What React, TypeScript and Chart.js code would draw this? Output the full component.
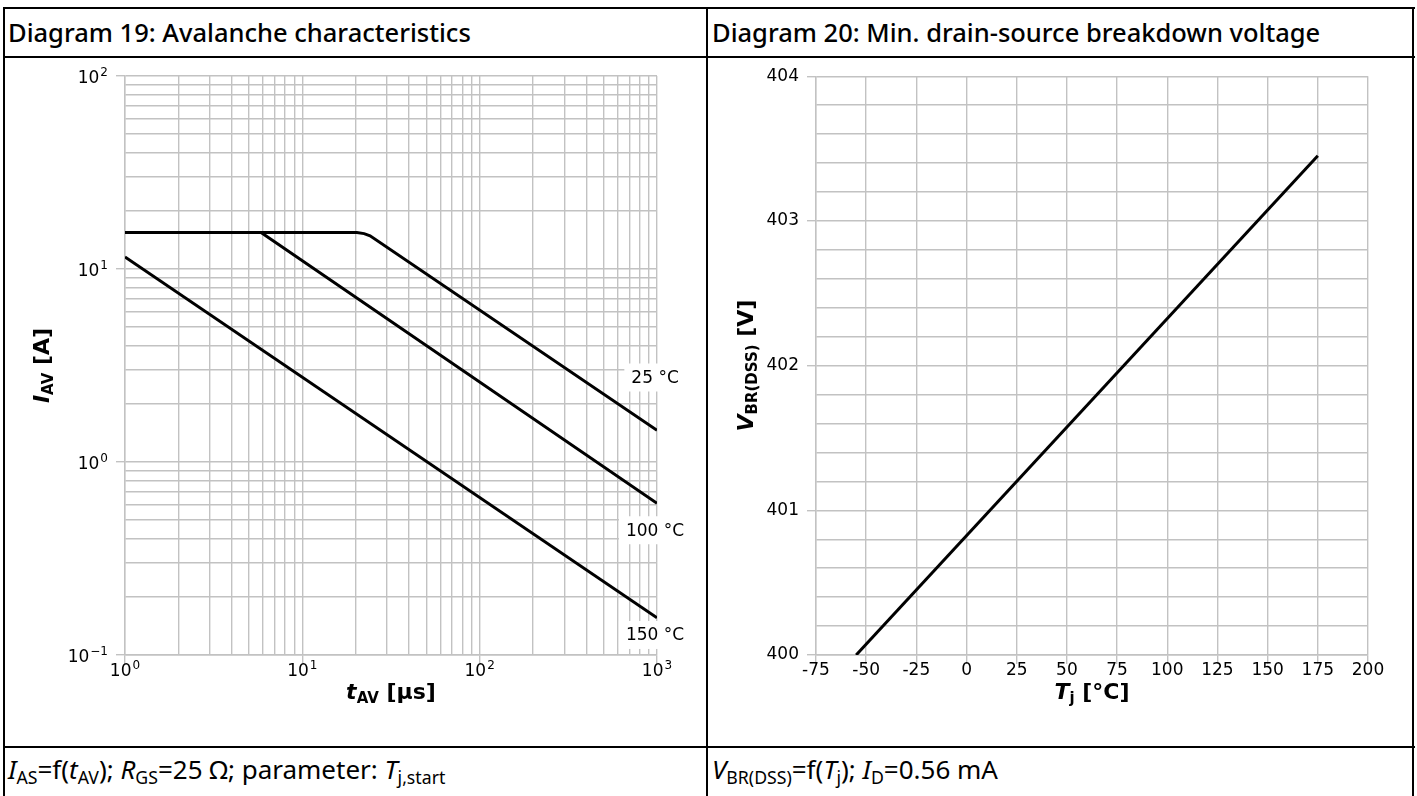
import React, { useEffect, useRef } from 'react';
import { Chart, registerables } from 'chart.js';

Chart.register(...registerables);

// ---------- Diagram 19 data (avalanche characteristics) ----------
const tAv25 = [1, 20.3, 22.3, 24.1, 1000];
const iAv25 = [15.45, 15.45, 15.25, 14.86, 1.46];
const tAv100 = [1, 5.85, 1000];
const iAv100 = [15.45, 15.45, 0.611];
const tAv150 = [1, 1000];
const iAv150 = [11.55, 0.156];

const avCurveLabels = ['25 °C', '100 °C', '150 °C'];
const avLabelT = [975, 975, 975];
const avLabelI = [2.74, 0.443, 0.127];

const avXDecades = [1, 10, 100, 1000];
const avXExponents = ['0', '1', '2', '3'];
const avYDecades = [0.1, 1, 10, 100];
const avYExponents = ['\u22121', '0', '1', '2'];

// ---------- Diagram 20 data (breakdown voltage) ----------
const tjValues = [-55, 175];
const vbrValues = [400, 403.45];
const tjTicks = [-75, -50, -25, 0, 25, 50, 75, 100, 125, 150, 175, 200];
const vbrMajor = [400, 401, 402, 403, 404];

const GRID = '#c2c2c2';
const TICKFONT = { family: 'DejaVu Sans', size: 17 };
const TICK_LEN = 9;

function logGrid(decades: number[]) {
  const out: number[] = [];
  for (let i = 0; i < decades.length; i++) {
    const d = decades[i];
    if (i === decades.length - 1) { out.push(d); break; }
    for (let k = 1; k <= 9; k++) out.push(+(d * k).toPrecision(6));
  }
  return out;
}

function isIn(list: number[], v: number) {
  return list.some((d) => Math.abs(d - v) <= Math.abs(d) * 1e-6 + 1e-9);
}

type Seg = { text: string; font: string; dy?: number };

function drawRich(ctx: CanvasRenderingContext2D, segs: Seg[], cx: number, cy: number, rot: number, base: number) {
  ctx.save();
  ctx.translate(cx, cy);
  ctx.rotate(rot);
  let total = 0;
  const ws = segs.map((s) => {
    ctx.font = s.font;
    const w = ctx.measureText(s.text).width;
    total += w;
    return w;
  });
  let x = -total / 2;
  ctx.fillStyle = '#000';
  ctx.textBaseline = 'alphabetic';
  ctx.textAlign = 'left';
  segs.forEach((s, i) => {
    ctx.font = s.font;
    ctx.fillText(s.text, x, base + (s.dy || 0));
    x += ws[i];
  });
  ctx.restore();
}

const B = 'bold 22px "DejaVu Sans"';
const BI = 'italic bold 22px "DejaVu Sans"';
const BS = 'bold 15px "DejaVu Sans"';
const PF = '17px "DejaVu Sans"';
const EF = '12px "DejaVu Sans"';

// draws "10" with a raised exponent; align: 'right' (y axis) or 'center' (x axis)
function drawPow(ctx: CanvasRenderingContext2D, exp: string, x: number, baseY: number, align: 'right' | 'center') {
  ctx.save();
  ctx.fillStyle = '#000';
  ctx.textBaseline = 'alphabetic';
  ctx.textAlign = 'left';
  ctx.font = PF;
  const wb = ctx.measureText('10').width;
  ctx.font = EF;
  const we = ctx.measureText(exp).width + 1;
  const total = wb + we;
  const left = align === 'right' ? x - total : x - total / 2;
  ctx.font = PF;
  ctx.fillText('10', left, baseY);
  ctx.font = EF;
  ctx.fillText(exp, left + wb + 1, baseY - 7);
  ctx.restore();
}

function AvalancheChart() {
  const ref = useRef<HTMLCanvasElement>(null);
  useEffect(() => {
    const toPts = (xs: number[], ys: number[]) => xs.map((x, i) => ({ x, y: ys[i] }));
    const ds = (xs: number[], ys: number[], label: string) => ({
      label,
      data: toPts(xs, ys),
      borderColor: '#000',
      borderWidth: 3,
      pointRadius: 0,
      tension: 0,
      fill: false,
    });
    const plugin = {
      id: 'avDecor',
      afterDraw(chart: any) {
        const ctx = chart.ctx as CanvasRenderingContext2D;
        const a = chart.chartArea;
        const xs = chart.scales.x;
        const ys = chart.scales.y;
        // tick labels (powers of ten)
        avXDecades.forEach((d, i) => drawPow(ctx, avXExponents[i], xs.getPixelForValue(d), a.bottom + 21, 'center'));
        avYDecades.forEach((d, i) => drawPow(ctx, avYExponents[i], a.left - TICK_LEN - 8, ys.getPixelForValue(d) + 7, 'right'));
        // curve annotations
        ctx.save();
        ctx.font = '17px "DejaVu Sans"';
        avCurveLabels.forEach((t, i) => {
          const px = xs.getPixelForValue(avLabelT[i]);
          const py = ys.getPixelForValue(avLabelI[i]);
          const w = ctx.measureText(t).width;
          ctx.fillStyle = '#fff';
          ctx.fillRect(px - w / 2 - 7, py - 14, w + 14, 28);
          ctx.fillStyle = '#000';
          ctx.textAlign = 'center';
          ctx.textBaseline = 'middle';
          ctx.fillText(t, px, py + 1);
        });
        ctx.restore();
        // axis titles
        drawRich(ctx, [
          { text: 't', font: BI },
          { text: 'AV', font: BS, dy: 4 },
          { text: ' [µs]', font: B },
        ], (a.left + a.right) / 2, a.bottom + 36, 0, 8);
        drawRich(ctx, [
          { text: 'I', font: BI },
          { text: 'AV', font: BS, dy: 4 },
          { text: ' [A]', font: B },
        ], 36, (a.top + a.bottom) / 2, -Math.PI / 2, 8);
      },
    };
    const xGrid = logGrid(avXDecades);
    const yGrid = logGrid(avYDecades);
    const chart = new Chart(ref.current as HTMLCanvasElement, {
      type: 'line',
      data: {
        datasets: [ds(tAv25, iAv25, avCurveLabels[0]), ds(tAv100, iAv100, avCurveLabels[1]), ds(tAv150, iAv150, avCurveLabels[2])],
      },
      options: {
        animation: false,
        responsive: false,
        maintainAspectRatio: false,
        layout: { padding: { left: 0, top: 18, right: 49, bottom: 0 } },
        plugins: { legend: { display: false }, tooltip: { enabled: false } },
        scales: {
          x: {
            type: 'logarithmic',
            min: 1,
            max: 1000,
            afterBuildTicks: (s: any) => { s.ticks = xGrid.map((v) => ({ value: v, major: isIn(avXDecades, v) })); },
            afterFit: (s: any) => { s.height = 91; },
            ticks: { autoSkip: false, maxRotation: 0, font: TICKFONT, callback: () => '' },
            grid: {
              color: GRID,
              lineWidth: 1.4,
              tickLength: TICK_LEN,
              tickColor: (c: any) => (c.tick && isIn(avXDecades, c.tick.value) ? GRID : 'rgba(0,0,0,0)'),
            },
            border: { color: GRID, width: 1.4 },
          },
          y: {
            type: 'logarithmic',
            min: 0.1,
            max: 100,
            afterBuildTicks: (s: any) => { s.ticks = yGrid.map((v) => ({ value: v, major: isIn(avYDecades, v) })); },
            afterFit: (s: any) => { s.width = 120; },
            ticks: { autoSkip: false, font: TICKFONT, callback: () => '' },
            grid: {
              color: GRID,
              lineWidth: 1.4,
              tickLength: TICK_LEN,
              tickColor: (c: any) => (c.tick && isIn(avYDecades, c.tick.value) ? GRID : 'rgba(0,0,0,0)'),
            },
            border: { color: GRID, width: 1.4 },
          },
        },
      },
      plugins: [plugin],
    } as any);
    return () => chart.destroy();
  }, []);
  return <canvas ref={ref} width={701} height={688} style={{ width: 701, height: 688, display: 'block' }} />;
}

function BreakdownChart() {
  const ref = useRef<HTMLCanvasElement>(null);
  useEffect(() => {
    const plugin = {
      id: 'bvDecor',
      afterDraw(chart: any) {
        const ctx = chart.ctx as CanvasRenderingContext2D;
        const a = chart.chartArea;
        drawRich(ctx, [
          { text: 'T', font: BI },
          { text: 'j', font: BS, dy: 4 },
          { text: ' [°C]', font: B },
        ], (a.left + a.right) / 2, a.bottom + 36, 0, 8);
        drawRich(ctx, [
          { text: 'V', font: BI },
          { text: 'BR(DSS)', font: BS, dy: 4 },
          { text: ' [V]', font: B },
        ], 37, (a.top + a.bottom) / 2, -Math.PI / 2, 8);
      },
    };
    const chart = new Chart(ref.current as HTMLCanvasElement, {
      type: 'line',
      data: {
        datasets: [{
          label: 'VBR(DSS)',
          data: tjValues.map((x, i) => ({ x, y: vbrValues[i] })),
          borderColor: '#000',
          borderWidth: 3,
          pointRadius: 0,
          tension: 0,
          fill: false,
        }],
      },
      options: {
        animation: false,
        responsive: false,
        maintainAspectRatio: false,
        layout: { padding: { left: 0, top: 18, right: 44, bottom: 0 } },
        plugins: { legend: { display: false }, tooltip: { enabled: false } },
        scales: {
          x: {
            type: 'linear',
            min: -75,
            max: 200,
            afterBuildTicks: (s: any) => { s.ticks = tjTicks.map((v) => ({ value: v })); },
            afterFit: (s: any) => { s.height = 91; },
            ticks: { autoSkip: false, maxRotation: 0, padding: -4, color: '#000', font: TICKFONT, callback: (v: any) => String(v) },
            grid: { color: GRID, lineWidth: 1.4, tickLength: TICK_LEN, tickColor: GRID },
            border: { color: GRID, width: 1.4 },
          },
          y: {
            type: 'linear',
            min: 400,
            max: 404,
            ticks: {
              stepSize: 0.2,
              autoSkip: false,
              padding: 8,
              color: '#000',
              font: TICKFONT,
              callback: (v: any) => (isIn(vbrMajor, v) ? String(Math.round(v)) : ''),
            },
            afterFit: (s: any) => { s.width = 108; },
            grid: {
              color: GRID,
              lineWidth: 1.4,
              tickLength: TICK_LEN,
              tickColor: (c: any) => (c.tick && isIn(vbrMajor, c.tick.value) ? GRID : 'rgba(0,0,0,0)'),
            },
            border: { color: GRID, width: 1.4 },
          },
        },
      },
      plugins: [plugin],
    } as any);
    return () => chart.destroy();
  }, []);
  return <canvas ref={ref} width={704} height={688} style={{ width: 704, height: 688, display: 'block' }} />;
}

const line = (l: number, t: number, w: number, h: number) => (
  <div style={{ position: 'absolute', left: l, top: t, width: w, height: h, background: '#000' }} />
);

const titleStyle: React.CSSProperties = {
  position: 'absolute',
  top: 12,
  fontFamily: '"Noto Sans", sans-serif',
  fontSize: 25.5,
  fontWeight: 500,
  lineHeight: '40px',
  whiteSpace: 'nowrap',
  color: '#000',
};

const footStyle: React.CSSProperties = {
  position: 'absolute',
  top: 751,
  fontFamily: '"Noto Sans", sans-serif',
  fontSize: 26,
  lineHeight: '36px',
  whiteSpace: 'nowrap',
  color: '#000',
};

const subStyle: React.CSSProperties = { fontSize: '0.68em', verticalAlign: '-0.3em', lineHeight: 0 };

export default function App() {
  return (
    <div style={{ position: 'absolute', left: 0, top: 0, width: 1417, height: 796, background: '#fff', overflow: 'hidden' }}>
      <div style={{ position: 'absolute', left: 5, top: 58 }}><AvalancheChart /></div>
      <div style={{ position: 'absolute', left: 708, top: 58 }}><BreakdownChart /></div>
      {line(3, 7, 1412, 2)}
      {line(3, 56, 1412, 2)}
      {line(3, 746, 1412, 2)}
      {line(3, 7, 2, 789)}
      {line(706, 7, 2, 789)}
      {line(1412, 7, 2, 789)}
      <div style={{ ...titleStyle, left: 8 }}>Diagram 19: Avalanche characteristics</div>
      <div style={{ ...titleStyle, left: 712 }}>Diagram 20: Min. drain-source breakdown voltage</div>
      <div style={{ ...footStyle, left: 8 }}>
        <i>I</i><span style={subStyle}>AS</span>=f(<i>t</i><span style={subStyle}>AV</span>); <i>R</i><span style={subStyle}>GS</span>=25 Ω; parameter: <i>T</i><span style={subStyle}>j,start</span>
      </div>
      <div style={{ ...footStyle, left: 712 }}>
        <i>V</i><span style={subStyle}>BR(DSS)</span>=f(<i>T</i><span style={subStyle}>j</span>); <i>I</i><span style={subStyle}>D</span>=0.56 mA
      </div>
    </div>
  );
}
